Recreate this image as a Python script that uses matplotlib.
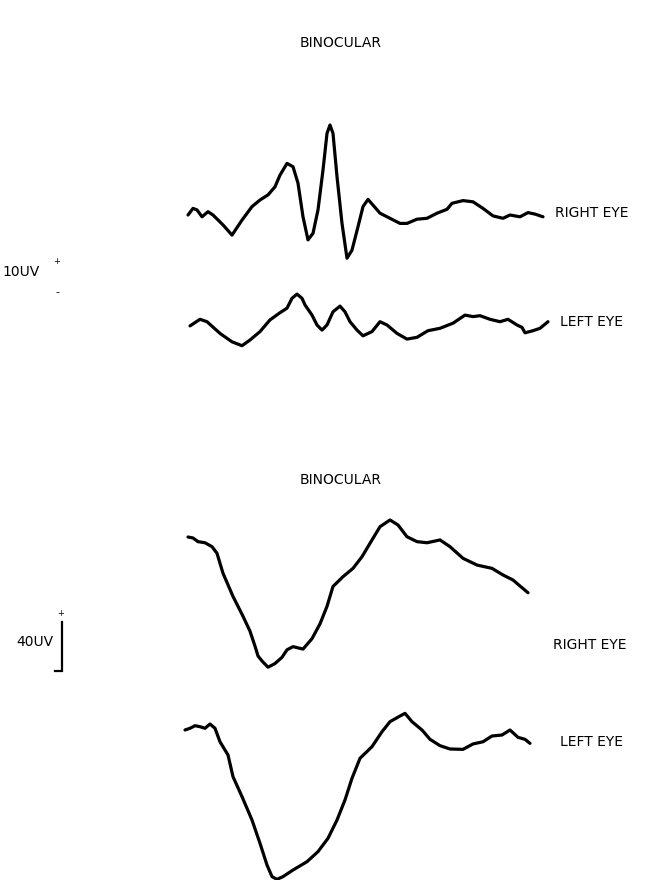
import matplotlib
matplotlib.use("Agg")
import numpy as np
import matplotlib.pyplot as plt

# --- pattern VEP (top) : time in ms, amplitude in uV ---
vep_t_right = [0, 5, 9, 14, 20, 25, 35, 44, 54, 64, 72, 80, 87, 92, 99, 105, 110, 115,
               120, 125, 130, 135, 139, 142, 145, 149, 154, 159, 164, 170, 175, 180,
               185, 192, 202, 212, 219, 229, 239, 249, 259, 264, 275, 285, 295, 305,
               315, 322, 332, 340, 347, 355]
vep_v_right = [0, 2.2, 1.7, -0.6, 1.1, 0, -3.3, -6.7, -1.7, 2.8, 5.0, 6.7, 9.4, 13.3,
               17.2, 16.1, 10.6, -0.6, -8.3, -6.1, 1.7, 15.0, 27.2, 30.0, 27.2, 12.8,
               -2.8, -14.4, -11.7, -3.9, 2.8, 5.2, 3.3, 0.6, -1.1, -2.8, -2.8, -1.4,
               -1.1, 0.6, 1.9, 3.9, 4.8, 4.4, 2.2, -0.3, -1.1, 0, -0.6, 0.8, 0.3, -0.6]

vep_t_left = [2, 12, 19, 32, 44, 54, 62, 72, 82, 92, 99, 104, 109, 114, 117, 124, 129,
              134, 139, 145, 152, 157, 162, 169, 175, 184, 192, 199, 209, 219, 229,
              240, 252, 265, 277, 285, 292, 302, 312, 320, 329, 334, 337, 345, 352, 360]
vep_v_left = [-0.3, 1.9, 1.1, -2.8, -5.6, -6.9, -5.0, -2.2, 1.7, 4.1, 5.6, 8.9, 10.3,
              8.9, 6.7, 3.3, 0, -1.7, 0, 4.4, 6.3, 4.4, 1.1, -1.7, -3.6, -2.2, 1.1, 0,
              -2.8, -4.7, -4.1, -1.9, -1.1, 0.6, 3.3, 2.8, 3.1, 1.9, 1.1, 1.9, 0, -0.8,
              -2.6, -1.9, -1.1, 1.1]

# --- flash VEP (bottom) : time in ms, amplitude in uV ---
flash_t_right = [0, 5, 10, 17, 24, 29, 35, 45, 55, 62, 67, 70, 74, 80, 87, 94, 99, 105,
                 115, 124, 132, 139, 145, 155, 165, 174, 184, 192, 202, 210, 219, 229,
                 239, 252, 262, 275, 289, 304, 315, 325, 332, 340]
flash_v_right = [0, -0.8, -3.8, -4.7, -7.9, -13.3, -29.6, -48.5, -64.7, -76.9, -89.1,
                 -97.1, -101.2, -106.3, -103.3, -98.2, -92.1, -89.5, -91.5, -83.0,
                 -70.9, -56.6, -40.4, -32.4, -25.6, -16.1, -2.4, 8.4, 13.9, 9.8, 0.2,
                 -3.8, -4.7, -2.4, -7.9, -17.4, -22.9, -25.6, -31.0, -35.1, -40.0, -45.5]

flash_t_left = [-3, 2, 7, 12, 17, 22, 27, 32, 40, 45, 54, 64, 72, 79, 84, 89, 95, 105,
                119, 130, 140, 149, 157, 164, 172, 184, 194, 202, 212, 217, 224, 234,
                242, 252, 262, 275, 285, 295, 304, 314, 322, 330, 337, 342]
flash_v_left = [0, 1.4, 3.5, 2.7, 1.4, 4.9, 1.4, -9.6, -20.4, -38.1, -54.4, -73.5,
                -92.5, -110.2, -119.7, -121.9, -119.7, -114.3, -107.5, -99.3, -88.4,
                -73.5, -57.1, -39.4, -23.1, -13.6, -1.4, 6.8, 11.4, 13.6, 6.8, 0, -7.6,
                -12.8, -15.5, -15.8, -11.4, -9.6, -4.9, -4.1, 0, -6.0, -7.6, -10.9]

W, H = 665, 880
fig = plt.figure(figsize=(W / 100, H / 100), dpi=100)
fig.patch.set_facecolor("white")

def px_axes(y0, y1):
    # axes spanning the full width between two pixel rows
    return fig.add_axes([0, 1 - y1 / H, 1, (y1 - y0) / H])

lw = 2.3
txt = dict(fontsize=10, color="black", family="DejaVu Sans")

# top block: 3 px per uV, right-eye baseline at row 215, left eye 110 px lower
ax1 = px_axes(0, 440)
ax1.set_xlim(-188, W - 188)
ax1.set_ylim(-(440 - 215) / 3, 215 / 3)
ax1.plot(vep_t_right, vep_v_right, color="black", lw=lw, solid_joinstyle="round",
         solid_capstyle="round")
ax1.plot(vep_t_left, np.array(vep_v_left) - 110 / 3, color="black", lw=lw,
         solid_joinstyle="round", solid_capstyle="round")
ax1.axis("off")

# bottom block: 40 uV = 49 px, right-eye baseline at row 537, left eye at 730
s = 49 / 40
ax2 = px_axes(440, 880)
ax2.set_xlim(-188, W - 188)
ax2.set_ylim(-(880 - 537) / s, (537 - 440) / s)
ax2.plot(flash_t_right, flash_v_right, color="black", lw=lw, solid_joinstyle="round",
         solid_capstyle="round")
ax2.plot(flash_t_left, np.array(flash_v_left) - (730 - 537) / s, color="black", lw=lw,
         solid_joinstyle="round", solid_capstyle="round")
# 40 uV calibration bar
bar_top = -(622 - 537) / s
ax2.plot([-133, -126, -126], [bar_top - 40, bar_top - 40, bar_top], color="black",
         lw=1.6, solid_joinstyle="miter")
ax2.axis("off")

def ftext(x, y, s, **kw):
    fig.text(x / W, 1 - y / H, s, **{**txt, **kw})

ftext(341, 43, "BINOCULAR", ha="center", va="center")
ftext(555, 213, "RIGHT EYE", ha="left", va="center")
ftext(560, 322, "LEFT EYE", ha="left", va="center")
ftext(2, 272, "10UV", ha="left", va="center")
ftext(57, 262, "+", ha="center", va="center", fontsize=6)
ftext(57, 292, "-", ha="center", va="center", fontsize=8)

ftext(341, 480, "BINOCULAR", ha="center", va="center")
ftext(553, 645, "RIGHT EYE", ha="left", va="center")
ftext(560, 742, "LEFT EYE", ha="left", va="center")
ftext(16, 642, "40UV", ha="left", va="center")
ftext(61, 613, "+", ha="center", va="center", fontsize=6)

fig.savefig("out.png", dpi=100, facecolor="white")
